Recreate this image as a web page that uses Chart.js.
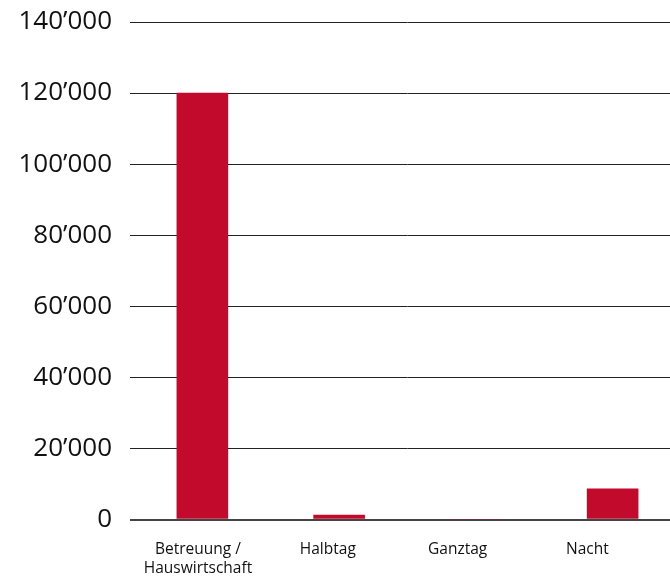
<!DOCTYPE html>
<html>
<head>
<meta charset="utf-8">
<script src="https://cdn.jsdelivr.net/npm/chart.js@4/dist/chart.umd.min.js"></script>
<style>
html,body{margin:0;padding:0;background:#fff;overflow:hidden;width:670px;height:577px;}
canvas{display:block;}
</style>
</head>
<body>
<canvas id="c" width="681" height="577" style="width:681px;height:577px"></canvas>
<script>
const categories = [["Betreuung /", "Hauswirtschaft"], "Halbtag", "Ganztag", "Nacht"];
const values = [120000, 1250, 0, 8600];
const yTicks = [0, 20000, 40000, 60000, 80000, 100000, 120000, 140000];

function fmt(v) {
  return String(Math.round(v)).replace(/\B(?=(\d{3})+(?!\d))/g, "\u2019");
}

const ctx = document.getElementById('c');
new Chart(ctx, {
  type: 'bar',
  data: {
    labels: categories.map(c => Array.isArray(c) ? c.join(' ') : c),
    datasets: [{
      data: values,
      backgroundColor: '#C20A2D',
      borderWidth: 0,
      barThickness: 51,
      xAxisID: 'x',
      yAxisID: 'y'
    }]
  },
  options: {
    responsive: false,
    animation: false,
    devicePixelRatio: 1,
    layout: { padding: { top: 22, right: 0, left: 0, bottom: 0 } },
    plugins: { legend: { display: false }, tooltip: { enabled: false } },
    scales: {
      x: { type: 'category', display: false },
      xl: {
        type: 'linear',
        position: 'bottom',
        offset: false,
        bounds: 'data',
        min: -0.493,
        max: 3.721,
        afterBuildTicks: (axis) => { axis.ticks = categories.map((c, i) => ({ value: i })); },
        afterFit: (axis) => { axis.height = 57.5; axis.paddingLeft = 0; axis.paddingRight = 0; },
        grid: { display: false, drawTicks: false, offset: false },
        border: { display: false },
        ticks: {
          autoSkip: false,
          maxRotation: 0,
          minRotation: 0,
          padding: 20,
          color: '#111',
          font: { family: '"Open Sans", sans-serif', size: 15.5, lineHeight: 1.25 },
          callback: (v) => categories[v]
        }
      },
      y: {
        type: 'linear',
        min: 0,
        max: 140000,
        afterBuildTicks: (axis) => { axis.ticks = yTicks.map(v => ({ value: v })); },
        afterFit: (axis) => { axis.width = 134; axis.paddingTop = 0; axis.paddingBottom = 0; },
        grid: {
          color: (c) => c.tick && c.tick.value === 0 ? '#444' : '#222',
          lineWidth: (c) => c.tick && c.tick.value === 0 ? 2 : 1,
          drawTicks: true,
          tickLength: 4
        },
        border: { display: false },
        ticks: {
          padding: 18,
          color: '#111',
          font: { family: '"Open Sans", sans-serif', size: 26 },
          callback: (v) => fmt(v)
        }
      }
    }
  }
});
</script>
</body>
</html>
